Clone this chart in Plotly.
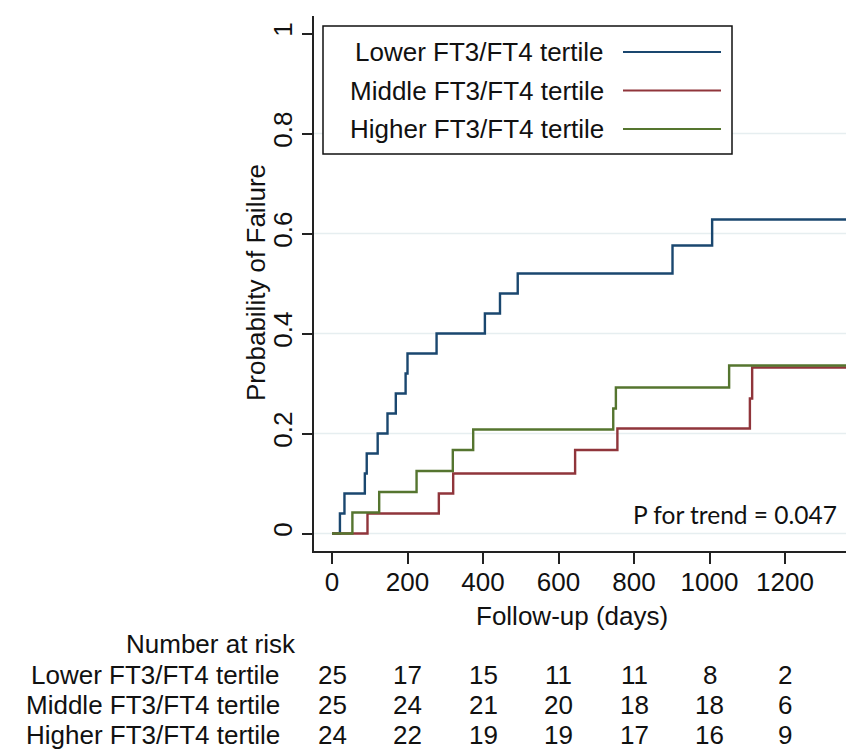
import plotly.graph_objects as go

# ---------------- data ----------------
series_names = ["Lower FT3/FT4 tertile", "Middle FT3/FT4 tertile", "Higher FT3/FT4 tertile"]

times_lower = [0, 21, 33, 87, 92, 121, 147, 169, 195, 200, 277, 405, 445, 492, 902, 1007, 1400]
fail_lower = [0, 0.04, 0.08, 0.12, 0.16, 0.20, 0.24, 0.28, 0.32, 0.36, 0.40, 0.44, 0.48, 0.52, 0.576, 0.628, 0.628]

times_middle = [0, 94, 283, 321, 644, 756, 1107, 1113, 1400]
fail_middle = [0, 0.04, 0.08, 0.12, 0.167, 0.21, 0.27, 0.332, 0.332]

times_higher = [0, 54, 125, 224, 320, 374, 745, 752, 1052, 1400]
fail_higher = [0, 0.042, 0.083, 0.125, 0.167, 0.208, 0.25, 0.292, 0.336, 0.336]

risk_times = [0, 200, 400, 600, 800, 1000, 1200]
risk_lower = [25, 17, 15, 11, 11, 8, 2]
risk_middle = [25, 24, 21, 20, 18, 18, 6]
risk_higher = [24, 22, 19, 19, 17, 16, 9]

y_ticks = [0, 0.2, 0.4, 0.6, 0.8, 1]
y_tick_labels = ["0", "0.2", "0.4", "0.6", "0.8", "1"]
grid_vals = [0, 0.2, 0.4, 0.6, 0.8]

p_text = "P for trend = 0.047"

# ---------------- styling / layout ----------------
colors = ["#1a476f", "#90353b", "#55752f"]
FONT = "Liberation Sans, Arial, Helvetica, sans-serif"
FS = 26
TXT = "#111111"

W, H = 846, 751
L, R, T, B = 314, 0, 16, 200
PW = W - L - R
PH = H - T - B


def pxx(px):
    return (px - L) / PW


def pxy(py):
    return (H - B - py) / PH


fig = go.Figure()
for name, xs, ys, c in zip(series_names,
                           [times_lower, times_middle, times_higher],
                           [fail_lower, fail_middle, fail_higher], colors):
    fig.add_trace(go.Scatter(x=xs, y=ys, mode="lines", name=name,
                             line=dict(color=c, width=2.4, shape="hv"),
                             showlegend=False, hoverinfo="skip"))

shapes = []
annotations = []

# gridlines
for g in grid_vals:
    shapes.append(dict(type="line", xref="paper", yref="y", x0=0, x1=1, y0=g, y1=g,
                       line=dict(color="#e6eef0", width=1.5), layer="below"))

# custom legend (text on left, line sample on right)
shapes.append(dict(type="rect", xref="paper", yref="paper",
                   x0=pxx(323), x1=pxx(732), y0=pxy(154), y1=pxy(26),
                   line=dict(color=TXT, width=1.5), fillcolor="white", layer="above"))
for i, (name, c) in enumerate(zip(series_names, colors)):
    yy = pxy(52 + 38.5 * i)
    annotations.append(dict(text=name, xref="paper", yref="paper", x=pxx(606), y=yy,
                            xanchor="right", yanchor="middle", showarrow=False,
                            font=dict(family=FONT, size=FS, color=TXT)))
    shapes.append(dict(type="line", xref="paper", yref="paper", x0=pxx(623), x1=pxx(721),
                       y0=yy, y1=yy, line=dict(color=c, width=2), layer="above"))

# P for trend
annotations.append(dict(text=p_text, xref="paper", yref="paper", x=pxx(839), y=pxy(514),
                        xanchor="right", yanchor="middle", showarrow=False,
                        font=dict(family="Lato, Open Sans, sans-serif", size=24.5, color=TXT)))

# axis titles
annotations.append(dict(text="Follow-up (days)", xref="paper", yref="paper", x=pxx(572), y=pxy(616),
                        xanchor="center", yanchor="middle", showarrow=False,
                        font=dict(family=FONT, size=FS, color=TXT)))
annotations.append(dict(text="Probability of Failure", xref="paper", yref="paper", x=pxx(256), y=pxy(283),
                        xanchor="center", yanchor="middle", showarrow=False, textangle=-90,
                        font=dict(family=FONT, size=FS, color=TXT)))

# number at risk table
annotations.append(dict(text="Number at risk", xref="paper", yref="paper", x=pxx(298), y=pxy(644),
                        xanchor="right", yanchor="middle", showarrow=False,
                        font=dict(family=FONT, size=FS, color=TXT)))
row_y = [675, 705, 735]
for name, vals, ry in zip(series_names, [risk_lower, risk_middle, risk_higher], row_y):
    annotations.append(dict(text=name, xref="paper", yref="paper", x=pxx(282), y=pxy(ry),
                            xanchor="right", yanchor="middle", showarrow=False,
                            font=dict(family=FONT, size=FS, color=TXT)))
    for t, v in zip(risk_times, vals):
        annotations.append(dict(text=str(v), xref="x", yref="paper", x=t, y=pxy(ry),
                                xanchor="center", yanchor="middle", showarrow=False,
                                font=dict(family=FONT, size=FS, color=TXT)))

px_per_day = 0.3775
x0_px = 332
y0_px, px_per_unit = 533.5, 500

fig.update_layout(
    width=W, height=H,
    margin=dict(l=L, r=R, t=T, b=B, pad=0),
    paper_bgcolor="white", plot_bgcolor="white",
    shapes=shapes, annotations=annotations,
    font=dict(family=FONT, size=FS, color=TXT),
    xaxis=dict(range=[(L - x0_px) / px_per_day, (W - R - x0_px) / px_per_day],
               tickvals=risk_times, ticktext=[str(t) for t in risk_times],
               showgrid=False, zeroline=False, showline=True, linecolor="#222222", linewidth=1.5,
               ticks="outside", ticklen=11, tickwidth=1.5, tickcolor="#222222",
               ticklabelstandoff=-4,
               tickfont=dict(family=FONT, size=FS, color=TXT)),
    yaxis=dict(range=[(y0_px - (H - B)) / px_per_unit, (y0_px - T) / px_per_unit],
               tickvals=y_ticks, ticktext=y_tick_labels, tickangle=-90,
               showgrid=False, zeroline=False, showline=True, linecolor="#222222", linewidth=1.5,
               ticks="outside", ticklen=10, tickwidth=1.5, tickcolor="#222222",
               tickfont=dict(family=FONT, size=FS, color=TXT)),
)

fig.write_html("out.html", config={"displayModeBar": False},
               post_script="document.body.style.margin='0';document.body.style.overflow='hidden';")
